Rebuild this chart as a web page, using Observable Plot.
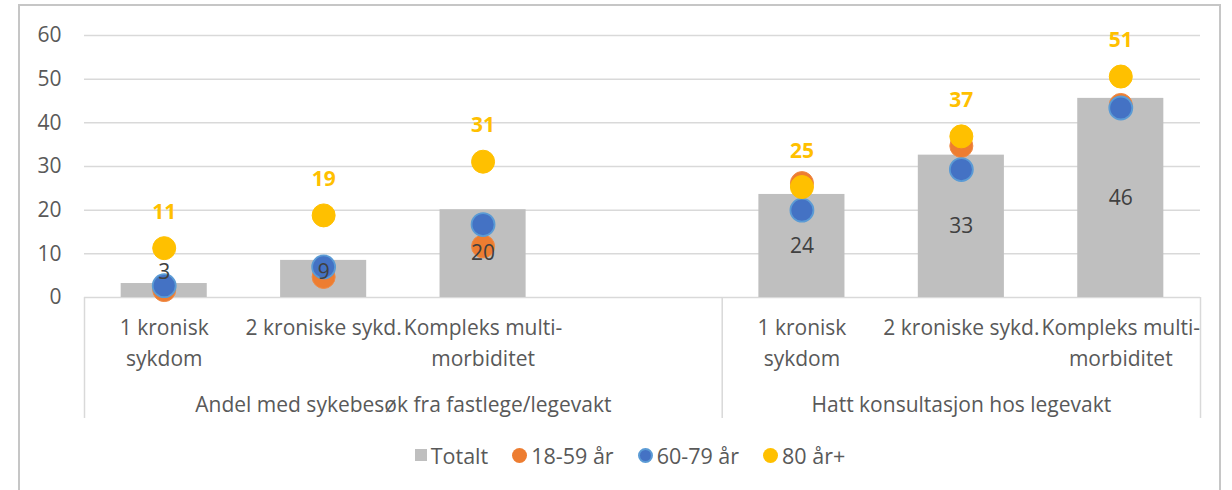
<!DOCTYPE html>
<html>
<head>
<meta charset="utf-8">
<script src="https://cdn.jsdelivr.net/npm/d3@7"></script>
<script src="https://cdn.jsdelivr.net/npm/@observablehq/plot@0.6"></script>
<style>
  html, body { margin: 0; padding: 0; background: #fff; }
  body { font-family: "Open Sans", sans-serif; position: relative; width: 1232px; height: 490px; overflow: hidden; }
  #frame { position: absolute; left: 18px; top: 4px; width: 1203px; height: 520px; border: 2px solid #c6c6c6; box-sizing: border-box; pointer-events: none; }
  #chart { position: absolute; left: 0; top: 0; }
  #legend { position: absolute; left: 0; top: 440px; width: 1232px; height: 30px; display: flex; justify-content: center; align-items: center; gap: 24px; font-size: 21.5px; color: #595959; padding-left: 28px; box-sizing: border-box; }
  .item { display: flex; align-items: center; gap: 4px; }
  .sq { width: 12px; height: 12px; background: #bfbfbf; }
  .dot { width: 15px; height: 15px; border-radius: 50%; box-sizing: border-box; }
</style>
</head>
<body>
<div id="chart"></div>
<div id="legend"></div>
<div id="frame"></div>
<script>
// ---- data ----
const groups = ["Andel med sykebesøk fra fastlege/legevakt", "Hatt konsultasjon hos legevakt"];
// group 1 has a blank fourth slot, as in the original axis
const groupCategories = [
  ["1 kronisk\nsykdom", "2 kroniske sykd.", "Kompleks multi-\nmorbiditet", ""],
  ["1 kronisk\nsykdom", "2 kroniske sykd.", "Kompleks multi-\nmorbiditet"]
];
const totalt  = [3.2, 8.5, 20.1, 23.6, 32.6, 45.6];
const age1859 = [1.7, 4.7, 11.7, 26.2, 34.7, 44.1];
const age6079 = [2.7, 7.0, 16.7, 20.0, 29.3, 43.4];
const age80   = [11.3, 18.8, 31.1, 25.3, 36.9, 50.6];
const yTicks  = [0, 10, 20, 30, 40, 50, 60];
const seriesNames = ["Totalt", "18-59 år", "60-79 år", "80 år+"];
const colors = {bar: "#bfbfbf", o: "#ED7D31", b: "#4472C4", bStroke: "#5B9BD5", y: "#FFC000"};

// ---- build rows ----
const rows = [];
const groupSpans = [];
let slot = 0, vi = 0;
groupCategories.forEach((cats, gi) => {
  const start = slot;
  cats.forEach(c => {
    if (c !== "") {
      rows.push({group: groups[gi], cat: c, x: slot + 0.5,
        total: totalt[vi], a: age1859[vi], b: age6079[vi], c80: age80[vi]});
      vi++;
    }
    slot++;
  });
  groupSpans.push({group: groups[gi], start, end: slot, mid: (start + slot) / 2});
});
const boundaries = [0, ...groupSpans.map(g => g.end)];
const nSlots = slot;

const barHalf = 0.27;
const boxDepth = -27.7; // how far the category box lines reach below the baseline (in y units)
const fs = 21;

const chart = Plot.plot({
  width: 1232,
  height: 440,
  marginLeft: 84,
  marginRight: 32,
  marginTop: 35,
  marginBottom: 143,
  style: {fontFamily: "'Open Sans', sans-serif", fontSize: fs + "px", color: "#595959", background: "transparent"},
  x: {domain: [0, nSlots], axis: null},
  y: {domain: [0, 60], ticks: yTicks, tickSize: 0, tickPadding: 23, label: null},
  marks: [
    Plot.gridY(yTicks.filter(d => d > 0), {stroke: "#d9d9d9", strokeOpacity: 1, strokeWidth: 1.5}),
    Plot.ruleY([0], {stroke: "#d9d9d9", strokeWidth: 1.5}),
    Plot.ruleX(boundaries, {x: d => d, y1: 0, y2: boxDepth, stroke: "#d9d9d9", strokeWidth: 1.5}),
    Plot.rectY(rows, {x1: d => d.x - barHalf, x2: d => d.x + barHalf, y1: 0, y2: "total", fill: colors.bar}),
    Plot.dot(rows, {x: "x", y: "a", r: 11.5, fill: colors.o, stroke: "#f08a44", strokeWidth: 1}),
    Plot.dot(rows, {x: "x", y: "b", r: 11.5, fill: colors.b, stroke: colors.bStroke, strokeWidth: 1.8}),
    Plot.dot(rows, {x: "x", y: "c80", r: 11.5, fill: colors.y, stroke: colors.y, strokeWidth: 1}),
    Plot.text(rows, {x: "x", y: d => Math.max(d.total / 2, 5.7), text: d => String(Math.round(d.total)), fill: "#404040", fontSize: fs}),
    Plot.text(rows, {x: "x", y: "c80", dy: -36, text: d => String(Math.round(d.c80)), fill: colors.y, fontWeight: "bold", fontSize: fs}),
    Plot.text(rows, {x: "x", y: 0, dy: 15.5, text: "cat", lineAnchor: "top", lineHeight: 1.48, fill: "#595959", fontSize: fs}),
    Plot.text(groupSpans, {x: "mid", y: 0, dy: 108, text: "group", fill: "#595959", fontSize: fs})
  ]
});
document.getElementById("chart").appendChild(chart);

// ---- legend ----
const legend = document.getElementById("legend");
const markers = [
  `<span class="sq"></span>`,
  `<span class="dot" style="background:${colors.o}"></span>`,
  `<span class="dot" style="background:${colors.b};border:2px solid ${colors.bStroke}"></span>`,
  `<span class="dot" style="background:${colors.y}"></span>`
];
seriesNames.forEach((n, i) => {
  const it = document.createElement("div");
  it.className = "item";
  it.innerHTML = markers[i] + `<span>${n}</span>`;
  legend.appendChild(it);
});
</script>
</body>
</html>
